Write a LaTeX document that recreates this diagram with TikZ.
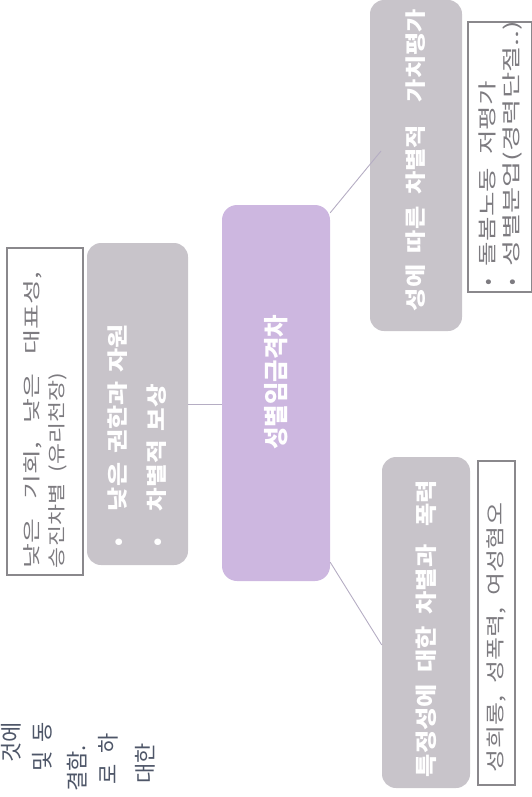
\documentclass[tikz,border=0pt]{standalone}
\usepackage{fontspec}
\usepackage{graphicx}
\setmainfont{Noto Sans CJK KR}
\usetikzlibrary{calc}
\definecolor{lav}{RGB}{205,183,224}
\definecolor{gbox}{RGB}{200,196,202}
\definecolor{edgec}{RGB}{181,173,195}
\definecolor{bord}{RGB}{138,136,140}
\definecolor{gtxt}{RGB}{125,123,128}
\definecolor{frag}{RGB}{78,86,104}
\newcommand\fitto[2]{\resizebox{#1}{\height}{#2}}
\newcommand\wsp[1][0.45em]{\hspace{#1}}
\tikzset{
  centerbox/.style={rotate=90, fill=lav, rounded corners=15pt, inner sep=0pt, text=white,
    font=\bfseries\fontsize{25}{28}\selectfont},
  graybox/.style={rotate=90, fill=gbox, rounded corners=14pt, inner sep=0pt, text=white,
    font=\bfseries\fontsize{21}{24}\selectfont},
  notebox/.style={rotate=90, draw=bord, line width=1.1pt, fill=white, inner sep=0pt, text=gtxt},
  link/.style={draw=edgec, line width=0.9pt},
  fragtext/.style={rotate=90, inner sep=0pt, text=frag, font=\fontsize{22}{26}\selectfont},
}
\begin{document}
\begin{tikzpicture}[x=1pt,y=1pt]
\useasboundingbox (0,0) rectangle (531,-797);

% centre
\node[centerbox, minimum width=376pt, minimum height=108pt] (c) at (276,-393)
  {\hspace*{22pt}\fitto{135pt}{성별임금격차}};

% left branch
\node[graybox, minimum width=322pt, minimum height=101pt, text width=284pt, align=left,
  font=\bfseries\fontsize{21}{39}\selectfont] (l) at (137.5,-404)
  {\makebox[35pt][l]{•}\fitto{187pt}{낮은\wsp[0.35em]권한과\wsp[0.35em]자원}\\
   \makebox[35pt][l]{•}\fitto{127pt}{차별적\wsp[0.35em]보상}};
\node[notebox, minimum width=327pt, minimum height=76pt, text width=313pt, align=left,
  font=\fontsize{18}{25}\selectfont] (lw) at (45,-411.5)
  {\fitto{296pt}{낮은\wsp[0.7em]기회,\wsp[0.7em]낮은\wsp[0.7em]대표성,}\\
   \fitto{195pt}{승진차별\wsp[0.5em](유리천장)}};

% upper right branch
\node[graybox, minimum width=331pt, minimum height=92pt] (ur) at (416,-165.5)
  {\hspace*{11pt}\fitto{302pt}{성에\wsp 따른\wsp 차별적\wsp[0.9em]가치평가}};
\node[notebox, minimum width=270pt, minimum height=64pt, text width=256pt, align=left,
  font=\fontsize{19}{24}\selectfont] (urn) at (500,-157)
  {\makebox[19pt][l]{•}\fitto{185pt}{돌봄노동\wsp[0.5em]저평가}\\
   \makebox[19pt][l]{•}\fitto{245pt}{성별분업(경력단절..)}};

% lower right branch
\node[graybox, minimum width=331pt, minimum height=88pt,
  font=\bfseries\fontsize{22}{24}\selectfont] (lr) at (426,-622.5)
  {\fitto{297pt}{특정성에\wsp 대한\wsp 차별과\wsp[0.7em]폭력}\hspace*{12pt}};
\node[notebox, minimum width=324pt, minimum height=37pt, text width=298pt, align=left,
  font=\fontsize{19}{24}\selectfont] (lrn) at (496.5,-623)
  {\fitto{269pt}{성희롱,\wsp[0.5em]성폭력,\wsp[0.5em]여성혐오}};

% cut-off text fragments at lower left
\node[fragtext, anchor=east] (f1) at (11,-722) {것에};
\node[fragtext, anchor=east] (f2) at (42,-722) {및\wsp[0.4em]동};
\node[fragtext, anchor=east] (f3) at (77,-745) {결함.};
\node[fragtext, anchor=east] (f4) at (108,-733) {로\wsp[0.5em]하};
\node[fragtext, anchor=east] (f5) at (145,-743) {대한};

% connectors
\coordinate (urEnd) at (381,-151);
\draw[link] ($(c.south east)+(0,-8)$) -- (urEnd);
\draw[link] ($(c.south west)+(0,19)$) -- ($(lr.north)+(0,-22.5)$);
\draw[link] (l.south) -- (l.south -| c.north);
\end{tikzpicture}
\end{document}
